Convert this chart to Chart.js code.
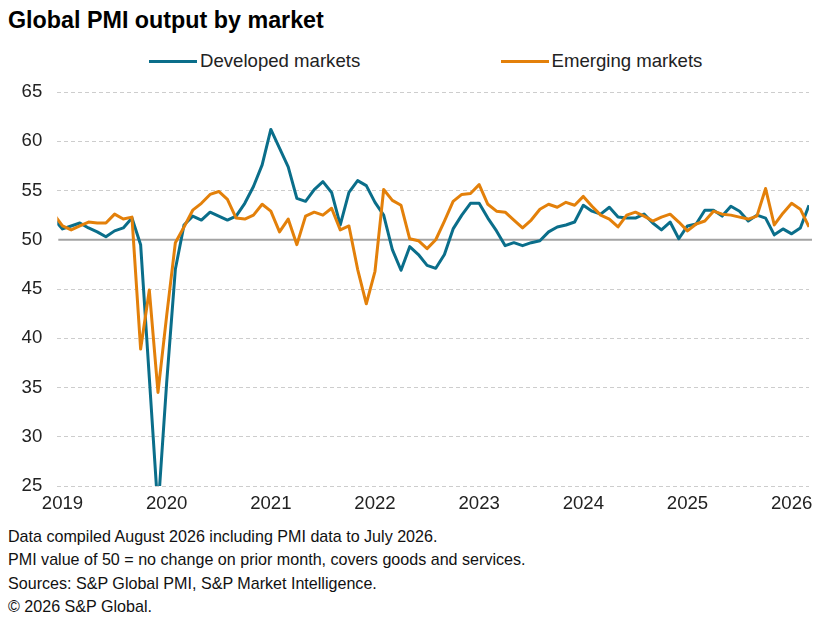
<!DOCTYPE html>
<html lang="en">
<head>
<meta charset="UTF-8">
<title>Global PMI output by market</title>
<script src="https://cdn.jsdelivr.net/npm/chart.js"></script>
<style>
  body { margin: 0; width: 823px; height: 619px; position: relative; background: #fff;
         font-family: "Liberation Sans", Arial, sans-serif; color: #000; overflow: hidden; }
  #title { position: absolute; left: 8px; top: 6px; font-weight: bold; font-size: 23.3px; line-height: 28px; white-space: nowrap; }
  .swatch { position: absolute; top: 59.5px; width: 48px; height: 3px; }
  .key { position: absolute; top: 49.6px; font-size: 18.6px; line-height: 22px; color: #222; white-space: nowrap; }
  #wrap { position: absolute; left: 0; top: 0; width: 823px; height: 520px; }
  #notes { position: absolute; left: 8px; top: 525px; font-size: 16.1px; line-height: 23.3px; color: #111; white-space: nowrap; }
</style>
</head>
<body>
  <div id="title">Global PMI output by market</div>
  <div class="swatch" id="swDev" style="left:149px"></div>
  <div class="key" style="left:200px">Developed markets</div>
  <div class="swatch" id="swEm" style="left:500.5px"></div>
  <div class="key" style="left:551.5px">Emerging markets</div>
  <div id="wrap"><canvas id="pmiChart"></canvas></div>
  <div id="notes">
    Data compiled August 2026 including PMI data to July 2026.<br>
    PMI value of 50 = no change on prior month, covers goods and services.<br>
    Sources: S&amp;P Global PMI, S&amp;P Market Intelligence.<br>
    &copy; 2026 S&amp;P Global.
  </div>

  <script>
    // monthly categories, Dec 2018 .. Mar 2026
    const months = [
      '2018-12',
      '2019-01','2019-02','2019-03','2019-04','2019-05','2019-06','2019-07','2019-08','2019-09','2019-10','2019-11','2019-12',
      '2020-01','2020-02','2020-03','2020-04','2020-05','2020-06','2020-07','2020-08','2020-09','2020-10','2020-11','2020-12',
      '2021-01','2021-02','2021-03','2021-04','2021-05','2021-06','2021-07','2021-08','2021-09','2021-10','2021-11','2021-12',
      '2022-01','2022-02','2022-03','2022-04','2022-05','2022-06','2022-07','2022-08','2022-09','2022-10','2022-11','2022-12',
      '2023-01','2023-02','2023-03','2023-04','2023-05','2023-06','2023-07','2023-08','2023-09','2023-10','2023-11','2023-12',
      '2024-01','2024-02','2024-03','2024-04','2024-05','2024-06','2024-07','2024-08','2024-09','2024-10','2024-11','2024-12',
      '2025-01','2025-02','2025-03','2025-04','2025-05','2025-06','2025-07','2025-08','2025-09','2025-10','2025-11','2025-12',
      '2026-01','2026-02','2026-03'
    ];

    const developed = [
      52.1,
      51.1, 51.4, 51.7, 51.2, 50.8, 50.3, 50.9, 51.2, 52.2, 49.5, 36.0, 22.5,
      35.5, 47.0, 51.5, 52.4, 52.0, 52.8, 52.4, 52.0, 52.4, 53.7, 55.4, 57.6,
      61.2, 59.3, 57.4, 54.2, 53.9, 55.1, 55.9, 54.8, 51.5, 54.8, 56.0, 55.5,
      53.8, 52.5, 49.0, 46.9, 49.3, 48.5, 47.4, 47.1, 48.5, 51.1, 52.5, 53.7,
      53.7, 52.2, 50.9, 49.4, 49.7, 49.4, 49.7, 49.9, 50.8, 51.3, 51.5, 51.8,
      53.5, 52.9, 52.6, 53.3, 52.3, 52.2, 52.2, 52.6, 51.7, 51.0, 51.8, 50.1,
      51.4, 51.6, 53.0, 53.0, 52.4, 53.4, 52.9, 51.9, 52.5, 52.2, 50.5, 51.1,
      50.6, 51.2, 53.5
    ];

    const emerging = [
      52.6,
      51.4, 51.0, 51.4, 51.8, 51.7, 51.7, 52.6, 52.1, 52.3, 38.9, 44.9, 34.5,
      42.3, 49.7, 51.3, 53.0, 53.7, 54.6, 54.9, 54.1, 52.2, 52.1, 52.5, 53.6,
      52.9, 50.8, 52.1, 49.5, 52.4, 52.8, 52.5, 53.2, 51.0, 51.4, 47.0, 43.5,
      46.8, 55.1, 54.0, 53.5, 50.1, 49.9, 49.1, 50.0, 51.9, 53.9, 54.6, 54.7,
      55.6, 53.6, 52.9, 52.8, 52.0, 51.2, 52.0, 53.1, 53.6, 53.3, 53.8, 53.5,
      54.4, 53.4, 52.5, 52.1, 51.3, 52.5, 52.8, 52.4, 51.9, 52.3, 52.6, 51.8,
      50.9, 51.6, 51.9, 52.9, 52.6, 52.5, 52.3, 52.1, 52.4, 55.2, 51.5, 52.7,
      53.7, 53.1, 51.3
    ];

    const yTicks = [25, 30, 35, 40, 45, 50, 55, 60, 65];

    const devColor = '#0a6e8a';
    const emColor = '#e3800a';
    document.getElementById('swDev').style.background = devColor;
    document.getElementById('swEm').style.background = emColor;

    // year ticks sit on each January
    const yearTicks = months.map((m, i) => m.endsWith('-01') ? i : null).filter(v => v !== null);

    // solid reference line at 50
    const fiftyLine = {
      id: 'fiftyLine',
      beforeDatasetsDraw(chart) {
        const { ctx, chartArea, scales } = chart;
        const y = scales.y.getPixelForValue(50);
        ctx.save();
        ctx.strokeStyle = '#a3a3a3';
        ctx.lineWidth = 2;
        ctx.beginPath();
        ctx.moveTo(chartArea.left + 1, y);
        ctx.lineTo(chartArea.right + 3, y);
        ctx.stroke();
        ctx.restore();
      }
    };

    const ctx = document.getElementById('pmiChart').getContext('2d');
    new Chart(ctx, {
      type: 'line',
      data: {
        datasets: [
          {
            label: 'Developed markets',
            data: developed.map((v, i) => ({ x: i, y: v })),
            borderColor: devColor,
            backgroundColor: devColor,
            borderWidth: 3,
            pointRadius: 0,
            tension: 0,
            borderJoinStyle: 'round',
            order: 2
          },
          {
            label: 'Emerging markets',
            data: emerging.map((v, i) => ({ x: i, y: v })),
            borderColor: emColor,
            backgroundColor: emColor,
            borderWidth: 3,
            pointRadius: 0,
            tension: 0,
            borderJoinStyle: 'round',
            order: 1
          }
        ]
      },
      options: {
        responsive: true,
        maintainAspectRatio: false,
        animation: false,
        layout: { padding: { top: 92, right: 14, bottom: 0, left: 0 } },
        plugins: {
          legend: { display: false },
          tooltip: { enabled: false }
        },
        scales: {
          x: {
            type: 'linear',
            min: 0.4,
            max: 87,
            afterBuildTicks: s => { s.ticks = yearTicks.map(v => ({ value: v })); },
            afterFit: s => { s.height = 34; },
            grid: { display: false, drawTicks: false },
            border: { display: false },
            ticks: {
              autoSkip: false,
              maxRotation: 0,
              minRotation: 0,
              padding: 7,
              color: '#222',
              font: { family: '"Liberation Sans", Arial, sans-serif', size: 18.6 },
              callback: v => months[v] ? months[v].slice(0, 4) : ''
            }
          },
          y: {
            min: 25,
            max: 65,
            afterBuildTicks: s => { s.ticks = yTicks.map(v => ({ value: v })); },
            afterFit: s => { s.width = 57.3; },
            grid: {
              drawTicks: false,
              lineWidth: 1,
              color: c => c.tick && c.tick.value === 50 ? 'rgba(0,0,0,0)' : '#cdcdcd'
            },
            border: { display: false, dash: [4, 3] },
            ticks: {
              padding: 15,
              color: '#222',
              font: { family: '"Liberation Sans", Arial, sans-serif', size: 18.6 }
            }
          }
        }
      },
      plugins: [fiftyLine]
    });
  </script>
</body>
</html>
